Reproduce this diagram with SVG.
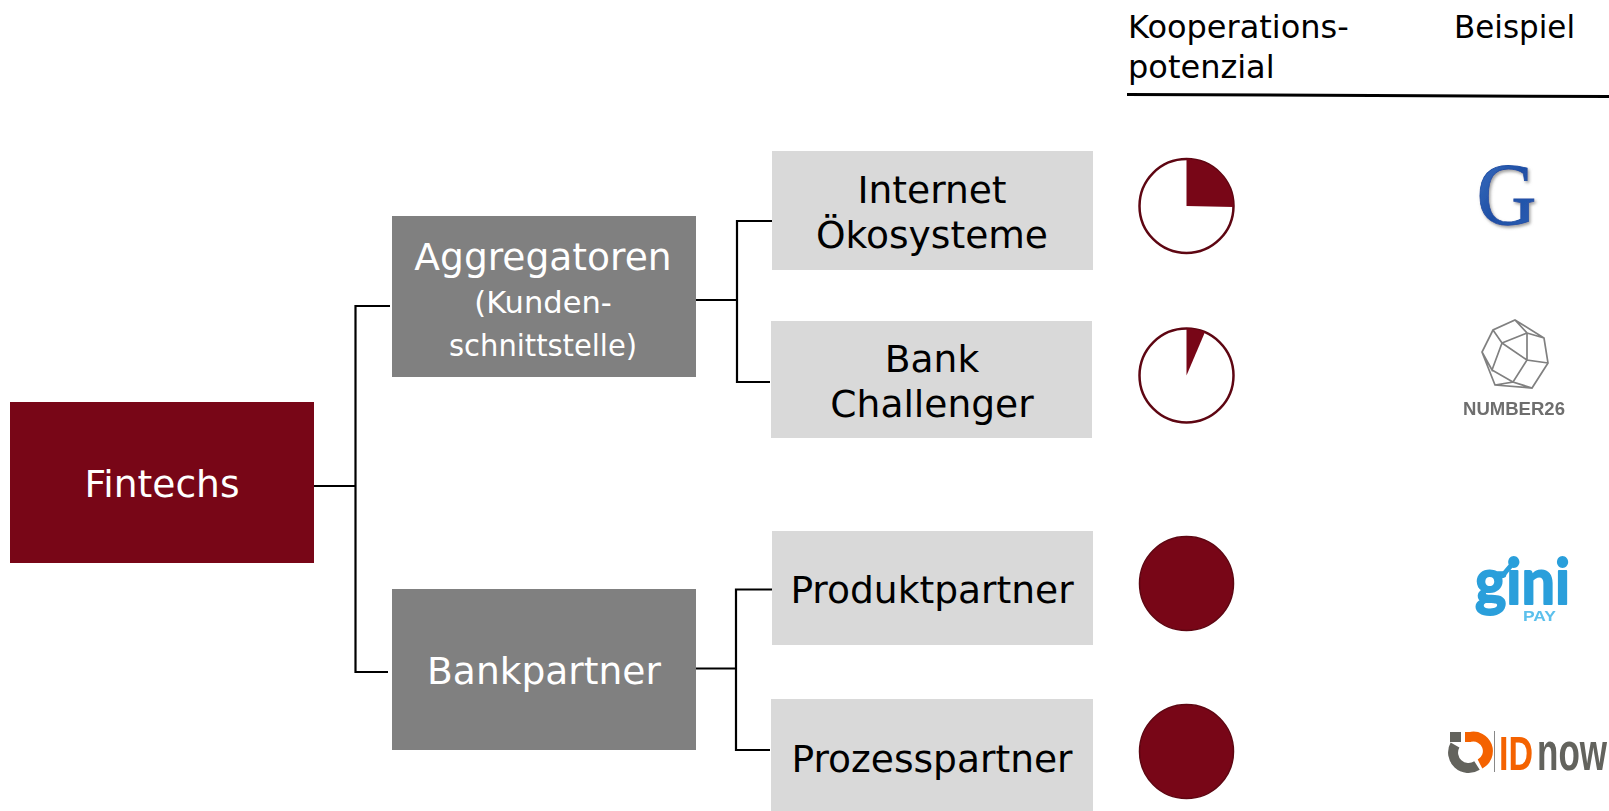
<svg xmlns="http://www.w3.org/2000/svg" width="1609" height="811" viewBox="0 0 1609 811">
<style>
text{font-family:"DejaVu Sans",Verdana,sans-serif;text-anchor:middle}
.m{font-size:37.600px;fill:#fff}
.s{font-size:30.500px;fill:#fff}
.b{font-size:37.600px;fill:#000}
.h{font-size:32px;fill:#000;text-anchor:start}
.g{fill:#808080}
.l{fill:#d9d9d9}
.c{fill:none;stroke:#000;stroke-width:2.2}
.p{fill:#fff;stroke:#5e0612;stroke-width:2.500}
.f{fill:#780617}
.n{fill:none;stroke:#808080;stroke-width:1.700}
</style>
<defs>
<linearGradient id="gg" x1="0" y1="0" x2="1" y2="1"><stop offset="0" stop-color="#3f74c4"/><stop offset="0.5" stop-color="#1f4fa5"/><stop offset="1" stop-color="#2c60b5"/></linearGradient>
<filter id="soft" x="-10%" y="-10%" width="120%" height="120%"><feGaussianBlur stdDeviation="0.6"/></filter>
<filter id="shadow" x="-20%" y="-20%" width="150%" height="150%"><feGaussianBlur stdDeviation="0.7" result="a"/><feDropShadow in="a" dx="1.500" dy="2" stdDeviation="1.500" flood-color="#888" flood-opacity="0.8"/></filter>
</defs>
<g id="connectors">
<path class="c" d="M314 486H355.500M390 306H355.500V672H388"/>
<path class="c" d="M694 300H737M773 221H737V382H770"/>
<path class="c" d="M693 668.500H736M773 589.500H736V750H770"/>
<path d="M1127 94.500L1609 96.500" stroke="#000" stroke-width="3" fill="none"/>
</g>
<g id="fintechs"><rect class="f" x="10" y="402" width="304" height="161"/><text class="m" x="162" y="497">Fintechs</text></g>
<g id="aggregatoren"><rect class="g" x="392" y="216" width="304" height="161"/><text class="m" x="543" y="270">Aggregatoren</text><text class="s" x="543" y="313">(Kunden-</text><text class="s" x="543" y="356" textLength="188" lengthAdjust="spacingAndGlyphs">schnittstelle)</text></g>
<g id="bankpartner"><rect class="g" x="392" y="589" width="304" height="161"/><text class="m" x="544" y="684">Bankpartner</text></g>
<g id="internet"><rect class="l" x="772" y="151" width="321" height="119"/><text class="b" x="932" y="203">Internet</text><text class="b" x="932" y="248">Ökosysteme</text></g>
<g id="challenger"><rect class="l" x="771" y="321" width="321" height="117"/><text class="b" x="932" y="372">Bank</text><text class="b" x="932" y="417">Challenger</text></g>
<g id="produkt"><rect class="l" x="772" y="531" width="321" height="114"/><text class="b" x="932" y="603">Produktpartner</text></g>
<g id="prozess"><rect class="l" x="771" y="699" width="322" height="112"/><text class="b" x="932" y="772">Prozesspartner</text></g>
<g id="header"><text class="h" x="1128" y="38">Kooperations-</text><text class="h" x="1128" y="78">potenzial</text><text class="h" x="1454" y="38" textLength="121" lengthAdjust="spacingAndGlyphs">Beispiel</text></g>
<g id="pie1"><circle class="p" cx="1186.500" cy="206" r="47"/><path class="f" d="M1186.500 206V159A47 47 0 0 1 1233.500 207Z"/></g>
<g id="pie2"><circle class="p" cx="1186.500" cy="375.500" r="47"/><path class="f" d="M1186.500 375.500V328.500A47 47 0 0 1 1205 332Z"/></g>
<g id="pie3"><circle class="f" cx="1186.500" cy="583.500" r="47" stroke="#5e0612" stroke-width="1.500"/></g>
<g id="pie4"><circle class="f" cx="1186.500" cy="751.500" r="47" stroke="#5e0612" stroke-width="1.500"/></g>
<g id="logo-google"><text x="1506.500" y="224" textLength="60" lengthAdjust="spacingAndGlyphs" style="font-family:'Liberation Serif',serif;font-size:89px" fill="url(#gg)" stroke="#1f4fa5" stroke-width="0.800" filter="url(#shadow)">G</text></g>
<g id="logo-number26" filter="url(#soft)">
<path class="n" d="M1515 320L1544 338L1548 363L1532 388L1495 385L1482 352L1493 330ZM1493 330L1502 343L1527 333L1515 320M1527 333L1544 338M1527 333L1527 360L1548 363M1502 343L1527 360L1513 382L1532 388M1502 343L1492 370L1482 352M1492 370L1513 382L1495 385"/>
<text x="1514" y="415" textLength="102" lengthAdjust="spacingAndGlyphs" style="font-size:17.500px;font-weight:bold;font-family:'Liberation Sans',sans-serif" fill="#6e6e6e">NUMBER26</text>
</g>
<g id="logo-gini" filter="url(#soft)">
<text x="1475" y="604" textLength="95" lengthAdjust="spacingAndGlyphs" style="font-size:64px;font-weight:bold;font-family:Lato,sans-serif;text-anchor:start" fill="#2a9fdb" stroke="#2a9fdb" stroke-width="2" stroke-linejoin="round">gini</text>
<path d="M1503 575L1514 562" stroke="#2a9fdb" stroke-width="5" stroke-linecap="round" fill="none"/>
<text x="1523" y="621" textLength="33" lengthAdjust="spacingAndGlyphs" style="font-size:15px;font-weight:bold;font-family:'Liberation Sans',sans-serif;text-anchor:start" fill="#5cc0ec">PAY</text>
</g>
<g id="logo-idnow" filter="url(#soft)">
<rect x="1450" y="732" width="11" height="10" fill="#63635d"/>
<path d="M1455 745A15.500 15.500 0 0 0 1477 765.500" stroke="#63635d" stroke-width="10" fill="none"/>
<path d="M1465 737H1470A14.500 14.500 0 0 1 1480 764" stroke="#f46200" stroke-width="10" fill="none"/>
<rect x="1494" y="731" width="1" height="41" fill="#888"/>
<text x="1499" y="770" textLength="34" lengthAdjust="spacingAndGlyphs" style="font-size:49px;font-weight:bold;text-anchor:start;font-family:'Liberation Sans',sans-serif" fill="#f46200">ID</text>
<text x="1537" y="770" textLength="70" lengthAdjust="spacingAndGlyphs" style="font-size:51px;font-weight:bold;text-anchor:start;font-family:'Liberation Sans',sans-serif" fill="#63635d">now</text>
</g>
</svg>
